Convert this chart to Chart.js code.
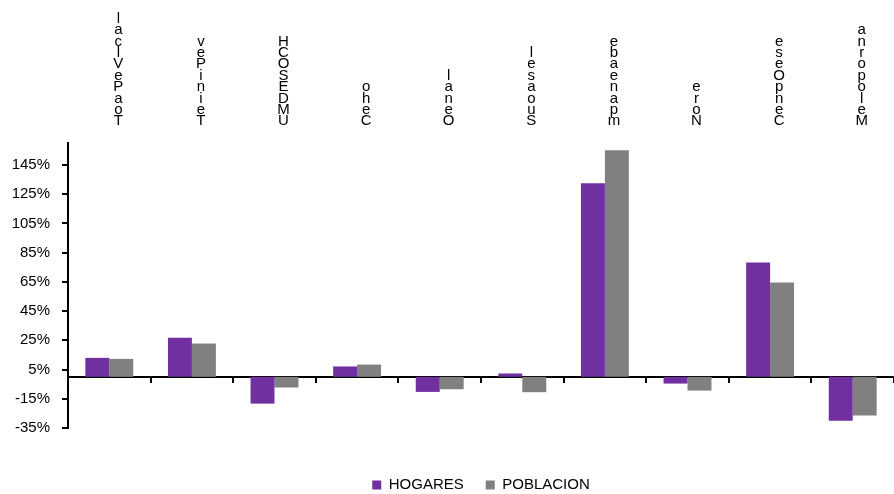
<!DOCTYPE html>
<html>
<head>
<meta charset="utf-8">
<script src="https://cdn.jsdelivr.net/npm/chart.js@4/dist/chart.umd.min.js"></script>
<style>
  html, body { margin: 0; padding: 0; background: #ffffff; }
  #wrap { width: 894px; height: 494px; position: relative; }
</style>
</head>
<body>
<div id="wrap"><canvas id="c"></canvas></div>
<script>
// Category labels (stacked glyphs, as drawn at the top of the reference)
const categories = [
  ['l','a','c','l','V','e','P','a','o','T'],
  ['v','e','P','i','n','i','e','T'],
  ['H','C','O','S','E','D','M','U'],
  ['o','h','e','C'],
  ['l','a','n','e','O'],
  ['l','e','s','a','o','u','S'],
  ['e','b','a','e','n','a','p','m'],
  ['e','r','o','N'],
  ['e','s','e','O','p','n','e','C'],
  ['a','n','r','o','p','o','l','e','M']
];
const seriesNames = ['HOGARES', 'POBLACION'];
const hogares   = [13.0, 26.7, -18.3, 7.1, -10.3, 2.3, 132.4, -4.6, 78.3, -30.0];
const poblacion = [12.3, 22.8, -7.3, 8.4, -8.5, -10.5, 155.0, -9.4, 64.6, -26.5];
const yTickValues = [-35, -15, 5, 25, 45, 65, 85, 105, 125, 145];

const FONT = "'Liberation Sans', Arial, sans-serif";

new Chart(document.getElementById('c'), {
  type: 'bar',
  data: {
    labels: categories,
    datasets: [
      { label: seriesNames[0], data: hogares, backgroundColor: '#7030A0', borderWidth: 0 },
      { label: seriesNames[1], data: poblacion, backgroundColor: '#808080', borderWidth: 0 }
    ]
  },
  options: {
    responsive: true,
    maintainAspectRatio: false,
    animation: false,
    datasets: { bar: { barPercentage: 1, categoryPercentage: 0.58 } },
    layout: { padding: { left: 0, right: -5, top: 0, bottom: -8.5 } },
    plugins: {
      legend: {
        position: 'bottom',
        fullSize: false,
        labels: {
          boxWidth: 9, boxHeight: 9, padding: 22,
          color: '#000', font: { family: FONT, size: 15 }
        }
      },
      tooltip: { enabled: false }
    },
    scales: {
      x: {
        type: 'category',
        position: 'top',
        offset: true,
        grid: { display: false },
        border: { display: false },
        ticks: {
          autoSkip: false, maxRotation: 0, minRotation: 0,
          padding: 8, labelOffset: 9, color: '#000',
          font: { family: FONT, size: 15, lineHeight: 0.76 }
        },
        afterFit: s => { s.height = 143; }
      },
      x2: {
        type: 'category',
        position: { y: 0 },
        offset: true,
        grid: { display: true, offset: true, drawOnChartArea: false, drawTicks: true, tickLength: 5, lineWidth: 2, color: '#000' },
        border: { display: true, width: 2, color: '#000' },
        ticks: { display: false },
        afterFit: s => { s.height = 0; }
      },
      x3: {
        type: 'category',
        position: 'bottom',
        grid: { display: false },
        border: { display: false },
        ticks: { display: false },
        afterFit: s => { s.height = 27.5; }
      },
      y: {
        type: 'linear',
        min: -35,
        max: 160,
        grid: { display: true, drawOnChartArea: false, drawTicks: true, tickLength: 6, lineWidth: 2, color: '#000' },
        border: { display: true, width: 2, color: '#000' },
        afterBuildTicks: s => { s.ticks = yTickValues.map(v => ({ value: v })); },
        ticks: {
          padding: 12, color: '#000',
          font: { family: FONT, size: 15 },
          callback: v => v + '%'
        },
        afterFit: s => { s.width = 68; }
      }
    }
  }
});
</script>
</body>
</html>
